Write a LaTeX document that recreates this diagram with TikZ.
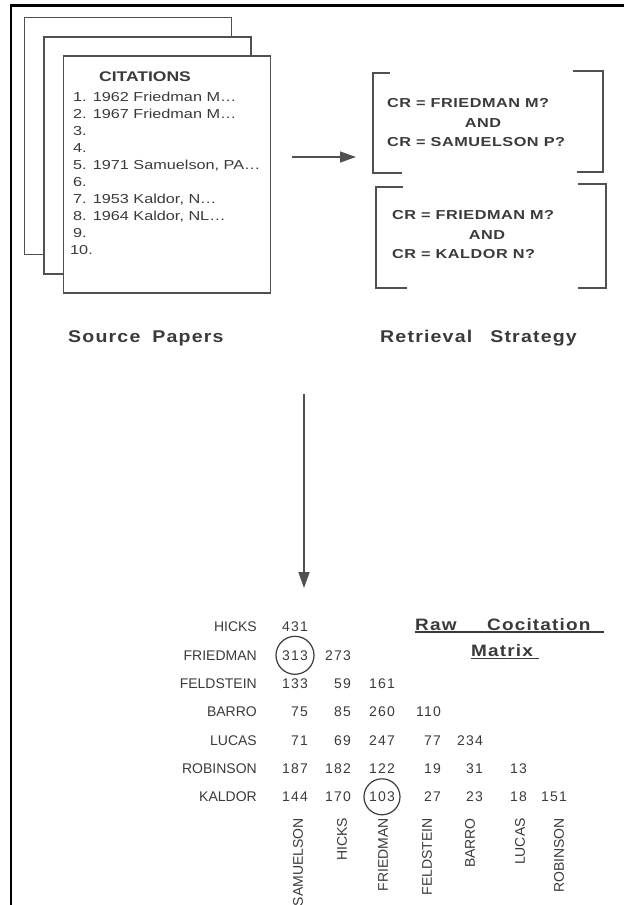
\documentclass[tikz,border=0pt]{standalone}
\usepackage{fontspec}
\setmainfont{Liberation Sans}
\newfontfamily\wideface[FakeStretch=1.25]{Liberation Sans}
\newfontfamily\queryface[FakeStretch=1.25,LetterSpace=4]{Liberation Sans}
\newfontfamily\labelface[FakeStretch=1.15,LetterSpace=7]{Liberation Sans}
\newfontfamily\numface[LetterSpace=8]{Liberation Sans}
\usepackage{xcolor}
\usetikzlibrary{arrows.meta}
\definecolor{ink}{HTML}{3A3A3A}
\definecolor{edge}{HTML}{505050}

\begin{document}
\begin{tikzpicture}[x=1pt, y=-1pt, >={Triangle[length=16pt,width=11pt]},
  paper/.style={draw=edge, fill=white, line width=1.4pt, minimum width=207pt, minimum height=237pt, inner sep=0},
  brak/.style={draw=edge, line width=1.5pt},
  txt/.style={inner sep=0, text=ink},
  cite/.style={txt, anchor=base west, font=\wideface\fontsize{13}{15}\selectfont},
  query/.style={txt, anchor=base west, font=\queryface\bfseries\fontsize{13}{15}\selectfont},
  heading/.style={txt, anchor=base west, font=\labelface\bfseries\fontsize{17}{20}\selectfont},
  rowlab/.style={txt, anchor=east, font=\fontsize{14}{16}\selectfont},
  collab/.style={txt, anchor=east, rotate=90, font=\fontsize{14}{16}\selectfont},
  entry/.style={txt, anchor=east, font=\numface\fontsize{14}{16}\selectfont},
  ring/.style={draw=ink, line width=1.2pt},
  uline/.style={draw=ink, line width=1.4pt},
  flow/.style={->, draw=edge, line width=1.4pt}]
  \useasboundingbox (0,0) rectangle (624,905);
  % Frame
  \draw[line width=2.6pt] (624,5.5) -- (11,5.5) -- (11,905);
  % Source papers
  \node[paper] (back) at (128,136) {};
  \node[paper] (mid) at (147.5,155.5) {};
  \node[paper] (front) at (167,174.5) {};
  \node[txt, anchor=base west, font=\wideface\bfseries\fontsize{14}{16}\selectfont] (cithead) at (99,81) {CITATIONS};
  \foreach \t [count=\i] in {{1. 1962 Friedman M\ldots}, {2. 1967 Friedman M\ldots}, 3., 4.,
      {5. 1971 Samuelson, PA\ldots}, 6., {7. 1953 Kaldor, N\ldots}, {8. 1964 Kaldor, NL\ldots}, 9.}
    \node[cite] (cite\i) at (73,{101.7+17*(\i-1)}) {\t};
  \node[cite] (cite10) at (70,254.7) {10.};
  % Retrieval strategy
  \draw[brak] (390,73) -- (373,73) -- (373,173) -- (402,173);
  \draw[brak] (573,71) -- (603,71) -- (603,172) -- (577,172);
  \draw[brak] (403,187) -- (376,187) -- (376,288) -- (407,288);
  \draw[brak] (578,184) -- (606,184) -- (606,288) -- (578,288);
  \node[query] (q1a) at (387,107.7) {CR = FRIEDMAN M?};
  \node[query, anchor=base] (q1and) at (483,127.7) {AND};
  \node[query] (q1b) at (387,146.7) {CR = SAMUELSON P?};
  \node[query] (q2a) at (392,219.7) {CR = FRIEDMAN M?};
  \node[query, anchor=base] (q2and) at (487,239.7) {AND};
  \node[query] (q2b) at (392,258.7) {CR = KALDOR N?};
  % Captions
  \node[heading] (srclab) at (68,342) {Source\hspace{12pt}Papers};
  \node[heading] (retlab) at (380,342) {Retrieval\hspace{18pt}Strategy};
  % Arrows
  \coordinate (h1) at (292,157);
  \coordinate (h2) at (356,157);
  \draw[flow] (h1) -- (h2);
  \coordinate (v1) at (304,394);
  \coordinate (v2) at (304,588);
  \draw[flow] (v1) -- (v2);
  % Cocitation matrix
  \node[heading, font=\labelface\bfseries\fontsize{16.5}{20}\selectfont] (rawlab) at (415,630) {Raw};
  \node[heading, font=\labelface\bfseries\fontsize{16.5}{20}\selectfont] (coclab) at (487,630) {Cocitation};
  \node[heading, font=\labelface\bfseries\fontsize{16.5}{20}\selectfont] (matlab) at (471,656) {Matrix};
  \draw[uline] ([yshift=-2pt]rawlab.base west) -- ([xshift=13pt,yshift=-2pt]coclab.base east);
  \draw[uline] ([yshift=-2.5pt]matlab.base west) -- ([xshift=6pt,yshift=-2.5pt]matlab.base east);
  \foreach \lab [count=\r] in {HICKS,FRIEDMAN,FELDSTEIN,BARRO,LUCAS,ROBINSON,KALDOR}
    \node[rowlab] (row\r) at (257,{627+28.3*(\r-1)}) {\lab};
  \foreach \vals [count=\r] in {{431},{313,273},{133,59,161},{75,85,260,110},{71,69,247,77,234},
      {187,182,122,19,31,13},{144,170,103,27,23,18,151}}
    \foreach \v [count=\c] in \vals {
      \pgfmathsetmacro\cx{{308,351,395,441,483,527,567}[\c-1]}
      \node[entry] (m\r-\c) at (\cx,{627+28.3*(\r-1)}) {\v};
    }
  \foreach \lab/\x in {SAMUELSON/298,HICKS/342,FRIEDMAN/383,FELDSTEIN/427,BARRO/470,LUCAS/520,ROBINSON/559}
    \node[collab] (col-\lab) at (\x,818) {\lab};
  \draw[ring] (m2-1.center) circle (19pt);
  \draw[ring] (m7-3.center) circle (18pt);
\end{tikzpicture}
\end{document}
